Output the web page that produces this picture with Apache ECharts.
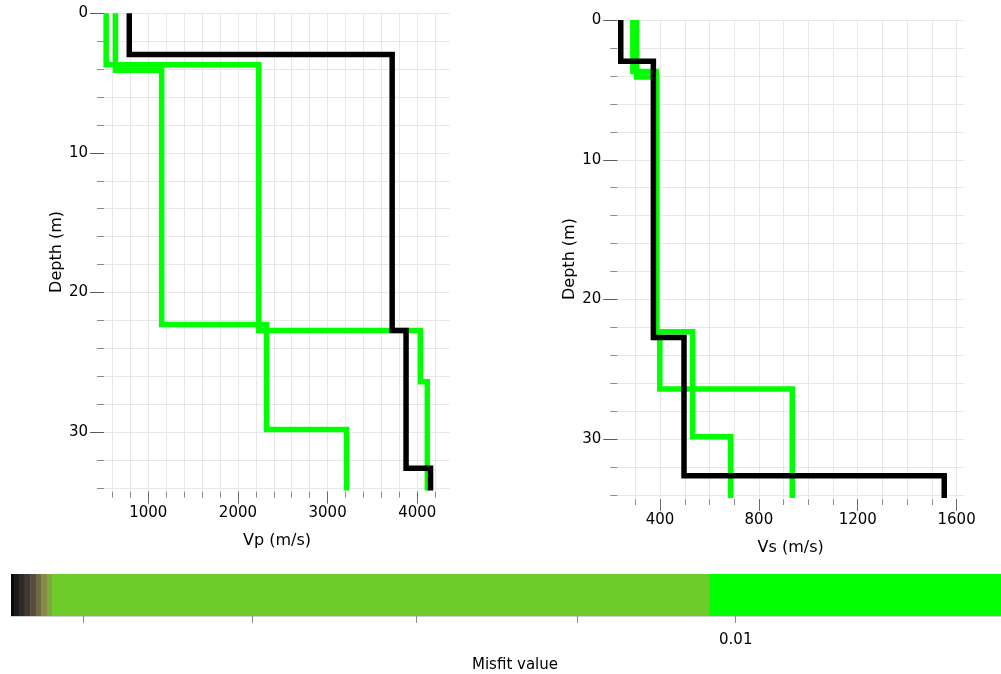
<!DOCTYPE html>
<html>
<head>
<meta charset="utf-8">
<script src="https://cdn.jsdelivr.net/npm/echarts@6/dist/echarts.min.js"></script>
<style>
  html, body { margin: 0; padding: 0; background: #ffffff; }
  #chart { width: 1001px; height: 674px; }
</style>
</head>
<body>
<div id="chart"></div>
<script>
// Layered ground models: bottom depth of each layer (m) and the layer velocities (m/s).
// The last layer is a half-space that runs to the bottom of the plot.
const bestInterfaces = [2.95, 22.72, 32.6];
const bestVp = [788, 3720, 3875, 4148];
const bestVs = [241, 373, 497, 1550];

const modelAInterfaces = [3.68, 22.72, 26.4];
const modelAVp = [530, 2232, 4035, 4112];
const modelAVs = [290, 385, 399, 935];

const modelBInterfaces = [4.08, 22.3, 29.82];
const modelBVp = [634, 1149, 2320, 3212];
const modelBVs = [305, 387, 532, 686];

const maxDepth = 34.2;

// Axis ticks and labels
const vpTicks = [600, 800, 1000, 1200, 1400, 1600, 1800, 2000, 2200, 2400, 2600, 2800, 3000, 3200, 3400, 3600, 3800, 4000, 4200];
const vpLabels = [1000, 2000, 3000, 4000];
const vsTicks = [300, 400, 500, 600, 700, 800, 900, 1000, 1100, 1200, 1300, 1400, 1500, 1600];
const vsLabels = [400, 800, 1200, 1600];
const depthTicks = [0, 2, 4, 6, 8, 10, 12, 14, 16, 18, 20, 22, 24, 26, 28, 30, 32, 34];
const depthLabels = [0, 10, 20, 30];

// Misfit colour scale (log axis): segment edges and the colour of each segment
const misfitEdges = [0.009115, 0.0091182, 0.0091241, 0.0091307, 0.0091373, 0.0091439, 0.0091501, 0.0091568, 0.009163, 0.009966, 0.010345];
const misfitColors = ['#060606', '#1b1a19', '#2e2a27', '#403930', '#574c3d', '#706a44', '#898947', '#7fa83e', '#6dcc2a', '#00ff00'];
const misfitTicks = [0.0092, 0.0094, 0.0096, 0.0098, 0.01];
const misfitLabels = [0.01];

const GREEN = '#00ff00';
const BLACK = '#000000';
const FONT = 'DejaVu Sans';

// Turn a layered model into a stepped (value, depth) profile
function profile(interfaces, values) {
  const pts = [];
  let top = 0;
  values.forEach(function (v, i) {
    const bottom = i < interfaces.length ? interfaces[i] : maxDepth;
    pts.push([v, top], [v, bottom]);
    top = bottom;
  });
  return pts;
}

function stepSeries(name, xi, yi, data, color) {
  return {
    name: name,
    type: 'line',
    xAxisIndex: xi,
    yAxisIndex: yi,
    data: data,
    showSymbol: false,
    symbol: 'none',
    silent: true,
    clip: true,
    lineStyle: { color: color, width: 5.5, join: 'miter', cap: 'butt' },
    z: color === BLACK ? 5 : 3
  };
}

const gridLine = { show: true, lineStyle: { color: '#e8e8e8', width: 1 } };

function mainX(gridIndex, min, max, ticks, labels, name) {
  return {
    type: 'value', gridIndex: gridIndex, min: min, max: max, position: 'bottom', offset: 1,
    axisLine: { show: false, onZero: false },
    axisTick: { show: true, customValues: ticks, length: 6, lineStyle: { color: '#8c8c8c', width: 1 } },
    axisLabel: { show: true, customValues: labels, margin: 14, color: '#000', fontFamily: FONT, fontSize: 15,
                 formatter: function (v) { return String(v); } },
    splitLine: gridLine,
    name: name, nameLocation: 'middle', nameGap: 41,
    nameTextStyle: { color: '#000', fontFamily: FONT, fontSize: 16 }
  };
}
function majorX(gridIndex, min, max, labels) {
  return {
    type: 'value', gridIndex: gridIndex, min: min, max: max, position: 'bottom', offset: 1,
    axisLine: { show: false, onZero: false },
    axisTick: { show: true, customValues: labels, length: 12, lineStyle: { color: '#6a6a6a', width: 1 } },
    axisLabel: { show: false },
    splitLine: { show: false }
  };
}
function mainY(gridIndex) {
  return {
    type: 'value', gridIndex: gridIndex, min: 0, max: maxDepth, inverse: true, position: 'left',
    axisLine: { show: false, onZero: false },
    axisTick: { show: true, customValues: depthTicks, length: 7, lineStyle: { color: '#8c8c8c', width: 1 } },
    axisLabel: { show: true, customValues: depthLabels, margin: 16, color: '#000', fontFamily: FONT, fontSize: 15,
                 formatter: function (v) { return String(v); } },
    splitLine: gridLine,
    name: 'Depth (m)', nameLocation: 'middle', nameGap: 30, nameRotate: 90,
    nameTextStyle: { color: '#000', fontFamily: FONT, fontSize: 16 }
  };
}
function majorY(gridIndex) {
  return {
    type: 'value', gridIndex: gridIndex, min: 0, max: maxDepth, inverse: true, position: 'left',
    axisLine: { show: false, onZero: false },
    axisTick: { show: true, customValues: depthLabels, length: 14, lineStyle: { color: '#5a5a5a', width: 1 } },
    axisLabel: { show: false },
    splitLine: { show: false }
  };
}

// Colour bar segments
const barData = misfitColors.map(function (c, i) { return [misfitEdges[i], misfitEdges[i + 1], i]; });

const chart = echarts.init(document.getElementById('chart'), null, { renderer: 'canvas' });
chart.setOption({
  backgroundColor: '#ffffff',
  animation: false,
  grid: [
    { left: 104, top: 13.3, width: 346, height: 477.3 },
    { left: 617.3, top: 20, width: 346.7, height: 478 },
    { left: 11, top: 574, width: 990, height: 42 }
  ],
  xAxis: [
    mainX(0, 506, 4365, vpTicks, vpLabels, 'Vp (m/s)'),
    majorX(0, 506, 4365, vpLabels),
    mainX(1, 227, 1630, vsTicks, vsLabels, 'Vs (m/s)'),
    majorX(1, 227, 1630, vsLabels),
    {
      type: 'log', logBase: 10, gridIndex: 2, min: misfitEdges[0], max: misfitEdges[misfitEdges.length - 1],
      position: 'bottom',
      axisLine: { show: true, onZero: false, lineStyle: { color: '#cfcfcf', width: 1 } },
      axisTick: { show: true, customValues: misfitTicks, length: 7, lineStyle: { color: '#8c8c8c', width: 1 } },
      axisLabel: { show: true, customValues: misfitLabels, margin: 17, color: '#000', fontFamily: FONT, fontSize: 15,
                   formatter: function (v) { return String(+v.toPrecision(3)); } },
      splitLine: { show: false },
      name: 'Misfit value', nameLocation: 'middle', nameGap: 42,
      nameTextStyle: { color: '#000', fontFamily: FONT, fontSize: 15, padding: [0, 0, 0, 18] }
    }
  ],
  yAxis: [
    mainY(0), majorY(0), mainY(1), majorY(1),
    { type: 'value', gridIndex: 2, min: 0, max: 1, show: false }
  ],
  series: [
    stepSeries('Vp model A', 0, 0, profile(modelAInterfaces, modelAVp), GREEN),
    stepSeries('Vp model B', 0, 0, profile(modelBInterfaces, modelBVp), GREEN),
    stepSeries('Vp best', 0, 0, profile(bestInterfaces, bestVp), BLACK),
    stepSeries('Vs model A', 2, 2, profile(modelAInterfaces, modelAVs), GREEN),
    stepSeries('Vs model B', 2, 2, profile(modelBInterfaces, modelBVs), GREEN),
    stepSeries('Vs best', 2, 2, profile(bestInterfaces, bestVs), BLACK),
    {
      name: 'Misfit scale',
      type: 'custom',
      xAxisIndex: 4,
      yAxisIndex: 4,
      silent: true,
      data: barData,
      encode: { x: [0, 1] },
      renderItem: function (params, api) {
        const p0 = api.coord([api.value(0), 1]);
        const p1 = api.coord([api.value(1), 0]);
        return {
          type: 'rect',
          shape: { x: p0[0], y: p0[1], width: p1[0] - p0[0] + 0.5, height: p1[1] - p0[1] },
          style: { fill: misfitColors[api.value(2)] }
        };
      }
    }
  ]
});
</script>
</body>
</html>
